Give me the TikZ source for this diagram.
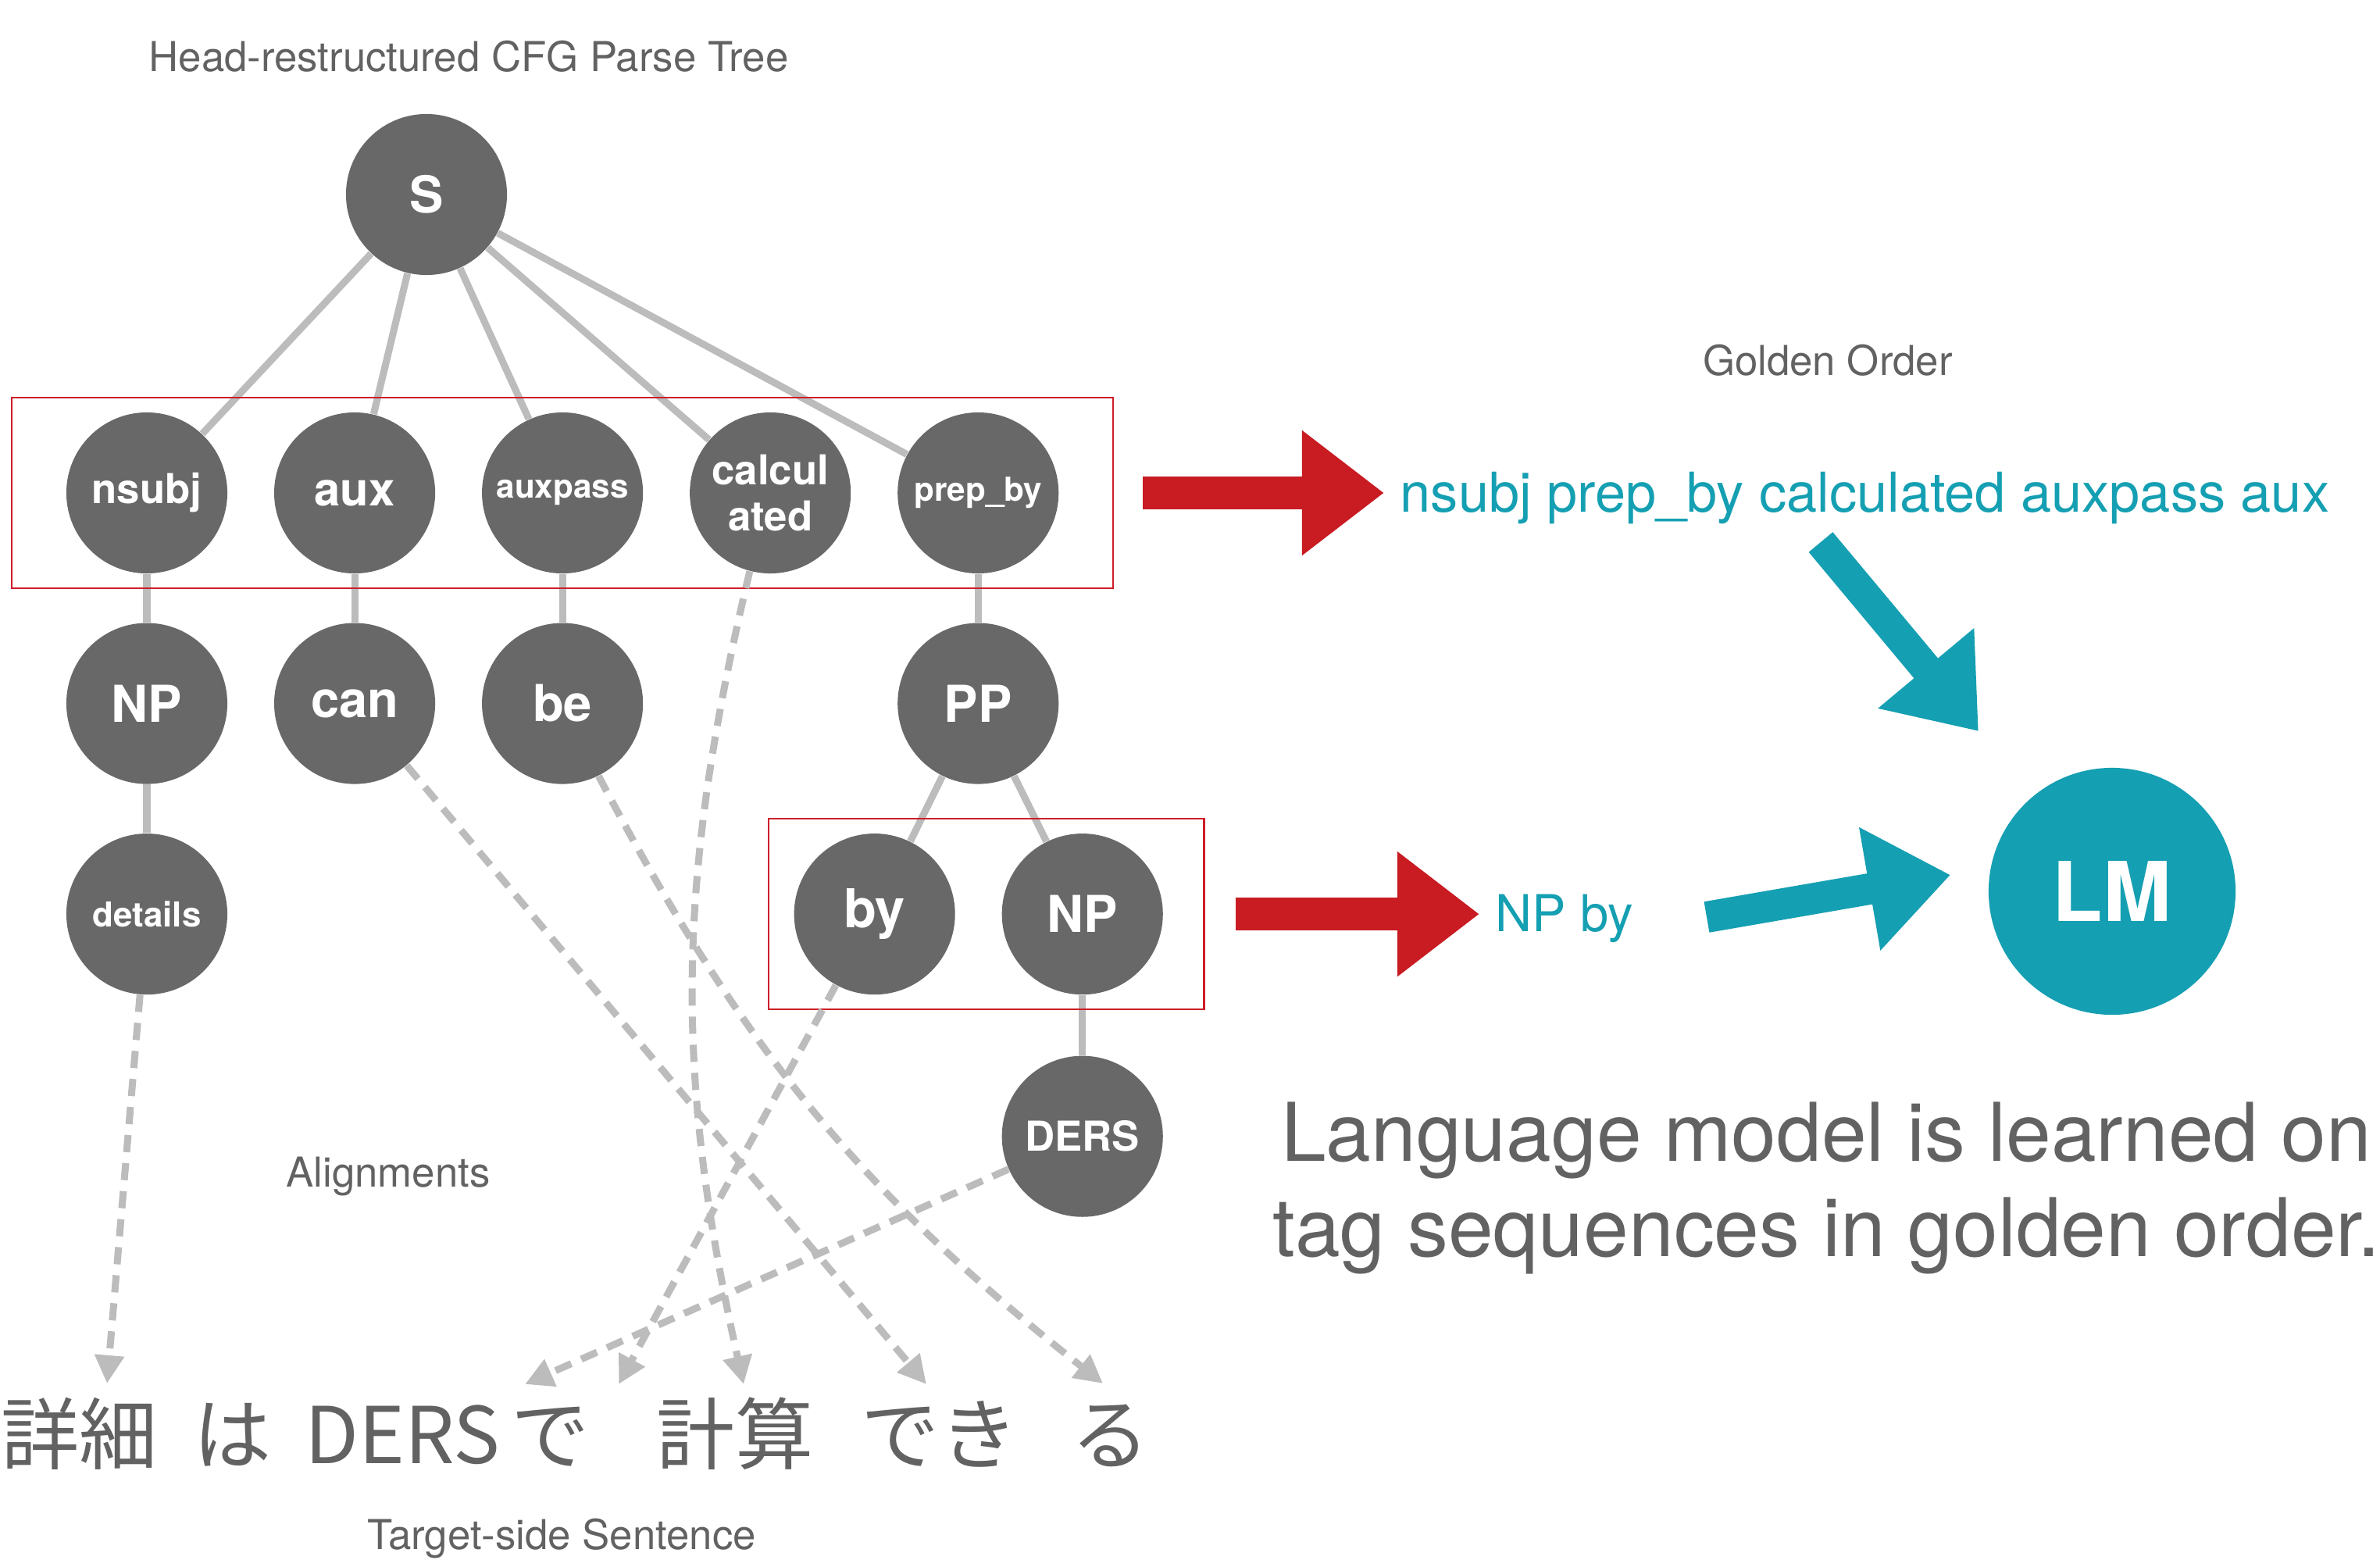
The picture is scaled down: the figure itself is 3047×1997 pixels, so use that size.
\documentclass[tikz,border=0pt]{standalone}
\usepackage{fontspec}
\setmainfont{TeX Gyre Heros}
\newfontfamily\jafont{Noto Sans CJK JP}
\usetikzlibrary{arrows.meta,positioning,fit,calc}

\definecolor{nodegray}{RGB}{104,104,104}
\definecolor{linegray}{RGB}{188,188,188}
\definecolor{textgray}{RGB}{98,98,98}
\definecolor{boxred}{RGB}{205,30,40}
\definecolor{arrowred}{RGB}{200,27,34}
\definecolor{lmteal}{RGB}{21,159,178}

\begin{document}
\begin{tikzpicture}[
    x=0.01cm, y=-0.01cm,
    node distance=0.62cm and 0.585cm,
    tagnode/.style={circle, fill=nodegray, text=white, minimum size=2.06cm, inner sep=0pt, align=center, font=\bfseries\fontsize{18.5}{20}\selectfont},
    tagmid/.style={font=\bfseries\fontsize{15}{17}\selectfont},
    tagsmall/.style={font=\bfseries\fontsize{12}{14}\selectfont},
    treeedge/.style={draw=linegray, line width=0.09cm},
    alignline/.style={draw=linegray, line width=0.09cm, dash pattern=on 0.22cm off 0.14cm, -{Triangle[length=0.36cm, width=0.36cm]}},
    groupbox/.style={draw=boxred, line width=0.6pt, inner ysep=0.18cm},
    bigarrow/.style={line width=0.42cm, -{Triangle[length=1.05cm, width=1.53cm]}},
    plaintext/.style={text=textgray, anchor=base, font=\fontsize{15}{18}\selectfont},
    seqtext/.style={text=lmteal, inner sep=0.2cm, anchor=base west},
    wordtext/.style={text=textgray, anchor=base, font=\jafont\fontsize{28.5}{32}\selectfont}
]
\useasboundingbox (0,0) rectangle (3047,1997);

% tree
\node[tagnode] (S) at (546,249) {S};
\node[tagnode, tagmid] (nsubj) at (188,631) {nsubj};
\node[tagnode, font=\bfseries\fontsize{17}{19}\selectfont, right=of nsubj] (aux) {aux};
\node[tagnode, tagsmall, right=of aux] (auxpass) {auxpass};
\node[tagnode, tagmid, right=of auxpass] (calc) {calcul\\ated};
\node[tagnode, tagsmall, right=of calc] (prepby) {prep\_by};
\node[tagnode, below=of nsubj] (np1) {NP};
\node[tagnode, below=of aux] (can) {can};
\node[tagnode, below=of auxpass] (be) {be};
\node[tagnode, below=of prepby] (PP) {PP};
\node[tagnode, font=\bfseries\fontsize{12.5}{14}\selectfont, below=of np1] (details) {details};
\node[tagnode, font=\bfseries\fontsize{19.5}{21}\selectfont, below=of PP, xshift=-1.325cm] (by) {by};
\node[tagnode, right=of by] (np2) {NP};
\node[tagnode, tagmid, below=0.77cm of np2] (DERS) {DERS};

\foreach \child in {nsubj,aux,auxpass,calc,prepby}
    \draw[treeedge] (S) -- (\child);
\draw[treeedge] (nsubj) -- (np1);
\draw[treeedge] (np1) -- (details);
\draw[treeedge] (aux) -- (can);
\draw[treeedge] (auxpass) -- (be);
\draw[treeedge] (prepby) -- (PP);
\draw[treeedge] (PP) -- (by);
\draw[treeedge] (PP) -- (np2);
\draw[treeedge] (np2) -- (DERS);

% groups
\node[groupbox, fit=(nsubj)(prepby), inner xsep=0.69cm] (box1) {};
\node[groupbox, fit=(by)(np2), inner xsep=0.42cm, xshift=0.1cm] (box2) {};

% captions
\node[plaintext] (title) at (600,92) {Head-restructured CFG Parse Tree};
\node[plaintext] (golden) at (2340,480) {Golden Order};
\node[plaintext] (alignments) at (497,1519) {Alignments};
\node[plaintext] (target) at (719,1983) {Target-side Sentence};

% target sentence
\node[wordtext] (wShousai) at (102,1873) {詳細};
\node[wordtext] (wWa) at (298,1873) {は};
\node[wordtext] (wDers) at (515,1873) {DERS};
\node[wordtext] (wDe) at (705,1873) {で};
\node[wordtext] (wKeisan) at (941,1873) {計算};
\node[wordtext] (wDeki) at (1203,1873) {でき};
\node[wordtext] (wRu) at (1422,1873) {る};

\coordinate (toShousai) at (137,1771);
\coordinate (toDers) at (672,1772);
\coordinate (toDe) at (792,1772);
\coordinate (toKeisan) at (952,1772);
\coordinate (toDeki) at (1186,1772);
\coordinate (toRu) at (1412,1771);

% alignments
\draw[alignline] (details) -- (toShousai);
\draw[alignline] (can) -- (toDeki);
\draw[alignline] (be) to[bend right=12] (toRu);
\draw[alignline] (calc) to[bend right=13] (toKeisan);
\draw[alignline] (by) -- (toDe);
\draw[alignline] (DERS) -- (toDers);

% golden order and LM
\node[seqtext, font=\fontsize{20}{24}\selectfont] (order) at (1772,655) {nsubj prep\_by calculated auxpass aux};
\node[seqtext, font=\fontsize{18.5}{22}\selectfont] (npby) at (1894,1192) {NP by};
\node[tagnode, fill=lmteal, minimum size=3.16cm, font=\bfseries\fontsize{30}{32}\selectfont] (LM) at (2704,1141) {LM};

\draw[bigarrow, draw=arrowred] ([xshift=0.37cm]box1.east) -- (box1.east -| order.west);
\draw[bigarrow, draw=arrowred] ([xshift=0.39cm]box2.east) -- (box2.east -| npby.west);

\coordinate (orderTail) at (2331,694);
\coordinate (npbyTail) at (2185,1174);
\draw[bigarrow, draw=lmteal, line width=0.4cm, shorten >=1.08cm] (orderTail) -- (LM);
\draw[bigarrow, draw=lmteal, line width=0.4cm] (npbyTail) -- ([xshift=-0.48cm, yshift=0.21cm]LM.west);

\node[text=textgray, align=center, font=\fontsize{29.5}{34.7}\selectfont] (lmnote) at (2338,1521) {Language model is learned on\\tag sequences in golden order.};
\end{tikzpicture}
\end{document}
